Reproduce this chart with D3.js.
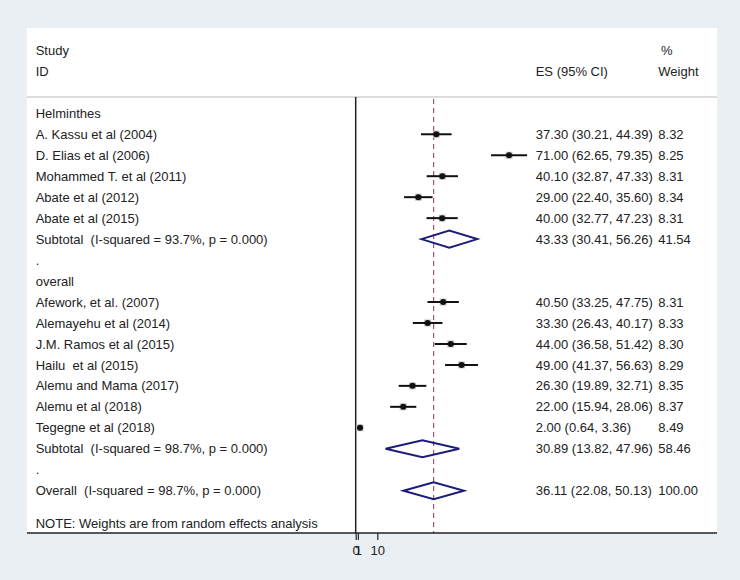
<!DOCTYPE html>
<html>
<head>
<meta charset="utf-8">
<script src="https://cdn.jsdelivr.net/npm/d3@7"></script>
<style>
  html, body { margin: 0; padding: 0; background: #e9eff2; }
  svg { display: block; }
  text { font-family: "Liberation Sans", Arial, sans-serif; font-size: 13px; fill: #222; white-space: pre; }
</style>
</head>
<body>
<svg id="chart" width="740" height="580"></svg>
<script>
// ---- data ----
const rowLabels = [
  "Helminthes",
  "A. Kassu et al (2004)",
  "D. Elias et al (2006)",
  "Mohammed T. et al (2011)",
  "Abate et al (2012)",
  "Abate et al (2015)",
  "Subtotal  (I-squared = 93.7%, p = 0.000)",
  ".",
  "overall",
  "Afework, et al. (2007)",
  "Alemayehu et al (2014)",
  "J.M. Ramos et al (2015)",
  "Hailu  et al (2015)",
  "Alemu and Mama (2017)",
  "Alemu et al (2018)",
  "Tegegne et al (2018)",
  "Subtotal  (I-squared = 98.7%, p = 0.000)",
  ".",
  "Overall  (I-squared = 98.7%, p = 0.000)"
];
const rowTypes = ["head","study","study","study","study","study","pooled","blank","head",
  "study","study","study","study","study","study","study","pooled","blank","pooled"];
const rowES = [null,37.30,71.00,40.10,29.00,40.00,43.33,null,null,40.50,33.30,44.00,49.00,26.30,22.00,2.00,30.89,null,36.11];
const rowLo = [null,30.21,62.65,32.87,22.40,32.77,30.41,null,null,33.25,26.43,36.58,41.37,19.89,15.94,0.64,13.82,null,22.08];
const rowHi = [null,44.39,79.35,47.33,35.60,47.23,56.26,null,null,47.75,40.17,51.42,56.63,32.71,28.06,3.36,47.96,null,50.13];
const rowWt = [null,8.32,8.25,8.31,8.34,8.31,41.54,null,null,8.31,8.33,8.30,8.29,8.35,8.37,8.49,58.46,null,100.00];
const overallES = 36.11;
const tickValues = [0, 1, 10];
const noteText = "NOTE: Weights are from random effects analysis";

// ---- layout ----
const W = 740, H = 580;
const panel = {x0: 27, x1: 717, y0: 28, y1: 533};
const sepY = 97;
const textX = 35.7, esX = 535.7, wtX = 658.3;

const svg = d3.select("#chart");
svg.append("rect").attr("x",0).attr("y",0).attr("width",W).attr("height",H).attr("fill","#e9eff2");
svg.append("rect").attr("x",panel.x0).attr("y",panel.y0)
  .attr("width",panel.x1-panel.x0).attr("height",panel.y1-panel.y0).attr("fill","#ffffff");

const x = d3.scaleLinear().domain([0, 100]).range([355.7, 571.7]);
const y = d3.scaleLinear().domain([0, 18]).range([113.3, 490.7]);
const base = 4.6; // baseline offset from row centre

// headers
svg.append("text").attr("x",textX).attr("y",50.7+base).text("Study");
svg.append("text").attr("x",textX).attr("y",71.7+base).text("ID");
svg.append("text").attr("x",661).attr("y",50.7+base).text("%");
svg.append("text").attr("x",esX).attr("y",71.7+base).text("ES (95% CI)");
svg.append("text").attr("x",wtX).attr("y",71.7+base).text("Weight");

// separator
svg.append("line").attr("x1",panel.x0).attr("x2",panel.x1).attr("y1",sepY).attr("y2",sepY)
  .attr("stroke","#d0d0d0").attr("stroke-width",1.5);

// null line
svg.append("line").attr("x1",x(0)).attr("x2",x(0)).attr("y1",sepY).attr("y2",panel.y1)
  .attr("stroke","#222").attr("stroke-width",1.5);

// overall dashed line
svg.append("line").attr("x1",x(overallES)).attr("x2",x(overallES)).attr("y1",sepY+2).attr("y2",panel.y1)
  .attr("stroke","#8a3a3a").attr("stroke-width",1).attr("stroke-dasharray","5,4");

const rows = rowLabels.map((lab,i)=>({lab, type:rowTypes[i], es:rowES[i], lo:rowLo[i], hi:rowHi[i], wt:rowWt[i], i}));

// labels
svg.append("g").selectAll("text").data(rows).join("text")
  .attr("x",textX).attr("y",d=>y(d.i)+base).attr("xml:space","preserve").text(d=>d.lab);

// ES text & weights
const dataRows = rows.filter(d=>d.es!==null);
svg.append("g").selectAll("text").data(dataRows).join("text")
  .attr("x",esX).attr("y",d=>y(d.i)+base)
  .text(d=>`${d.es.toFixed(2)} (${d.lo.toFixed(2)}, ${d.hi.toFixed(2)})`);
svg.append("g").selectAll("text").data(dataRows).join("text")
  .attr("x",wtX).attr("y",d=>y(d.i)+base)
  .text(d=>d.wt.toFixed(2));

// study marks
const studies = rows.filter(d=>d.type==="study");
const box = 7;
svg.append("g").selectAll("rect").data(studies).join("rect")
  .attr("x",d=>x(d.es)-box/2).attr("y",d=>y(d.i)-box/2)
  .attr("width",box).attr("height",box).attr("fill","#c4c4c4");
svg.append("g").selectAll("line").data(studies).join("line")
  .attr("x1",d=>x(d.lo)).attr("x2",d=>x(d.hi))
  .attr("y1",d=>y(d.i)).attr("y2",d=>y(d.i))
  .attr("stroke","#111").attr("stroke-width",2);
svg.append("g").selectAll("circle").data(studies).join("circle")
  .attr("cx",d=>x(d.es)).attr("cy",d=>y(d.i)).attr("r",3).attr("fill","#111");

// pooled diamonds
const pooled = rows.filter(d=>d.type==="pooled");
const hh = 8.5;
svg.append("g").selectAll("path").data(pooled).join("path")
  .attr("d",d=>{
    const cy=y(d.i);
    return `M${x(d.lo)},${cy}L${x(d.es)},${cy-hh}L${x(d.hi)},${cy}L${x(d.es)},${cy+hh}Z`;
  })
  .attr("fill","none").attr("stroke","#1c1c7a").attr("stroke-width",2);

// note
svg.append("text").attr("x",textX).attr("y",523.3+base).text(noteText);

// axis
svg.append("line").attr("x1",panel.x0).attr("x2",panel.x1).attr("y1",panel.y1).attr("y2",panel.y1)
  .attr("stroke","#222").attr("stroke-width",1.5);
const axis = d3.axisBottom(x).tickValues(tickValues).tickFormat(d3.format("d")).tickSize(7).tickSizeOuter(0).tickPadding(6);
const ag = svg.append("g").attr("transform",`translate(0,${panel.y1})`).call(axis);
ag.select(".domain").remove();
ag.selectAll(".tick line").attr("stroke","#222").attr("stroke-width",1.2);
ag.selectAll(".tick text").attr("fill","#222").style("font-size","13px")
  .style("font-family","'Liberation Sans', Arial, sans-serif");
</script>
</body>
</html>
